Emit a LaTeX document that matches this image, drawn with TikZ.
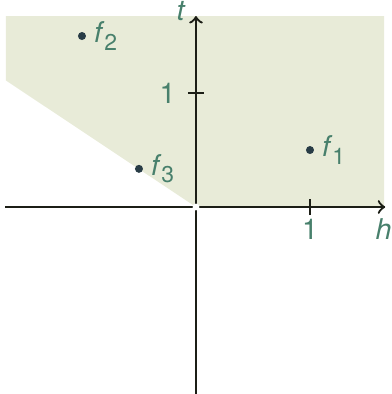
\documentclass[tikz,border=0pt]{standalone}
\usepackage{fontspec}
\setmainfont{TeX Gyre Heros}
\usetikzlibrary{positioning}
\definecolor{regioncol}{RGB}{232,235,216}
\definecolor{lbl}{RGB}{72,128,108}
\definecolor{dotc}{RGB}{40,60,70}
\definecolor{axc}{RGB}{28,30,22}
\newcommand{\fl}[1]{\textit{f}\raisebox{-0.5ex}{\footnotesize #1}}
\tikzset{
  axis/.style={draw=axc, line width=0.8pt, ->},
  tick/.style={draw=axc, line width=0.6pt},
  lab/.style={text=lbl, inner sep=1pt},
  pt/.style={circle, fill=dotc, inner sep=0pt, minimum size=2.8pt},
}
\begin{document}
\begin{tikzpicture}[x=1.4cm,y=1.4cm]
\useasboundingbox (-1.719,-1.640) rectangle (1.719,1.816);
\fill[regioncol] (-1.667,1.11) -- (-1.667,1.675) -- (1.65,1.675) -- (1.65,0) -- (0,0) -- cycle;
\coordinate (O) at (0,0);
\coordinate (xl) at (-1.675,0);
\coordinate (xr) at (1.66,0);
\coordinate (yb) at (0,-1.66);
\coordinate (yt) at (0,1.675);
\draw[axis] (xl) -- (xr);
\draw[axis] (yb) -- (yt);
\fill[white] (O) circle (0.03);
\coordinate (tx) at (1,0);
\coordinate (ty) at (0,1);
\draw[tick] ([yshift=-0.07*1.4cm]tx) -- ([yshift=0.07*1.4cm]tx);
\draw[tick] ([xshift=-0.07*1.4cm]ty) -- ([xshift=0.07*1.4cm]ty);
\node[lab] (lx1) at (1,-0.2) {1};
\node[lab] (ly1) at (-0.25,1.0) {1};
\node[lab] (lh) at (1.645,-0.19) {\textit{h}};
\node[lab] (lt) at (-0.13,1.72) {\textit{t}};
\node[pt] (f1) at (1,0.5) {};
\node[pt] (f2) at (-1,1.5) {};
\node[pt] (f3) at (-0.5,0.335) {};
\node[lab, right=0.05cm of f1] (l1) {\fl{1}};
\node[lab, right=0.05cm of f2] (l2) {\fl{2}};
\node[lab, right=0.05cm of f3] (l3) {\fl{3}};
\end{tikzpicture}
\end{document}
